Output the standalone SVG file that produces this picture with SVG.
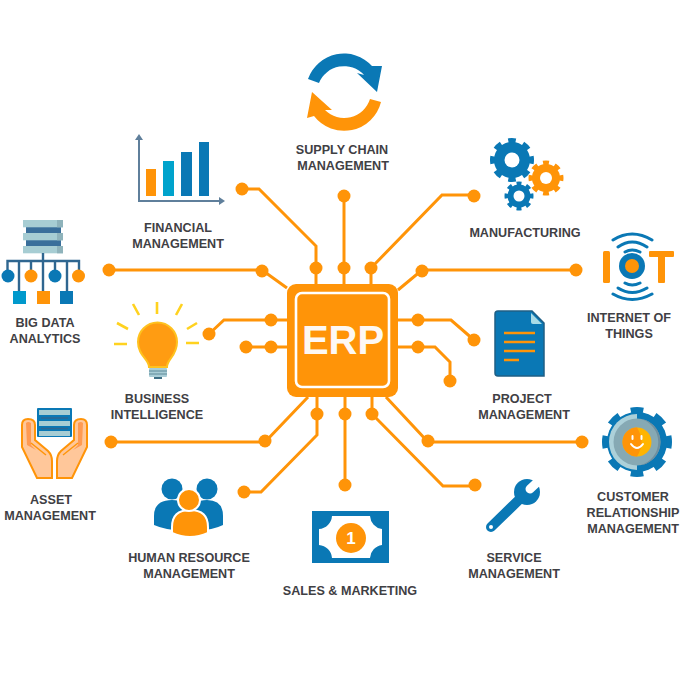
<svg xmlns="http://www.w3.org/2000/svg" width="680" height="680" viewBox="0 0 680 680">
<style>
text{font-family:"Liberation Sans",Arial,sans-serif;font-weight:700;font-size:12.6px;fill:#3f4044;text-anchor:middle}
.w{fill:none;stroke:#ff9408;stroke-width:3;stroke-linejoin:miter}
.d{fill:#ff9408}
.o{fill:#ff9408}.b{fill:#0a78b5}
.y{stroke:#ffd21f;stroke-width:2.6;fill:none}
.a{stroke:#0a78b5;stroke-width:3;fill:none;stroke-linecap:round}
.n{stroke:#2f6690;stroke-width:2.4;fill:none}
</style>
<rect width="680" height="680" fill="#fff"/>
<g id="connectors">
<path class="w" d="M242,189H259L316,246V284"/>
<path class="w" d="M344,196V284"/>
<path class="w" d="M474,195H442L371,268V284"/>
<path class="w" d="M109,270H262L287,288"/>
<path class="w" d="M576,270H422L398,290"/>
<path class="w" d="M209,334L224,320H287"/>
<path class="w" d="M246,347H287"/>
<path class="w" d="M398,320H451L474,340"/>
<path class="w" d="M398,347H435L450,362V381"/>
<path class="w" d="M111,442H265L308,397"/>
<path class="w" d="M244,492H261L317,435V397"/>
<path class="w" d="M345,397V485"/>
<path class="w" d="M372,397V414L443,486H475"/>
<path class="w" d="M386,397L428,442H582"/>
<g class="d">
<circle cx="242" cy="189" r="6.5"/><circle cx="316" cy="268" r="6.5"/>
<circle cx="344" cy="196" r="6.5"/><circle cx="344" cy="268" r="6.5"/>
<circle cx="474" cy="196" r="6.5"/><circle cx="371" cy="268" r="6.5"/>
<circle cx="109" cy="270" r="6.5"/><circle cx="262" cy="271" r="6.5"/>
<circle cx="576" cy="270" r="6.5"/><circle cx="422" cy="271" r="6.5"/>
<circle cx="209" cy="334" r="6.5"/><circle cx="271" cy="320" r="6.5"/>
<circle cx="246" cy="347" r="6.5"/><circle cx="271" cy="347" r="6.5"/>
<circle cx="418" cy="320" r="6.5"/><circle cx="474" cy="340" r="6.5"/>
<circle cx="418" cy="347" r="6.5"/><circle cx="450" cy="381" r="6.5"/>
<circle cx="111" cy="442" r="6.5"/><circle cx="265" cy="441" r="6.5"/>
<circle cx="244" cy="492" r="6.5"/><circle cx="317" cy="414" r="6.5"/>
<circle cx="345" cy="414" r="6.5"/><circle cx="345" cy="485" r="6.5"/>
<circle cx="372" cy="414" r="6.5"/><circle cx="475" cy="485" r="6.5"/>
<circle cx="428" cy="441" r="6.5"/><circle cx="582" cy="442" r="6.5"/>
</g>
</g>
<g id="erp">
<rect x="287" y="284" width="111" height="113" rx="9" class="o"/>
<rect x="296" y="293" width="93" height="94" rx="6" fill="none" stroke="#fff" stroke-width="2.6"/>
<text x="343" y="354" style="font-size:40px;fill:#fdf8f4">ERP</text>
</g>
<g id="supply-chain">
<path class="b" d="M308,79A38,38 0 0 1 372,66L382,66L377,92L357,73L364,75A27,27 0 0 0 319,83Z"/>
<path class="o" d="M381,102A38,38 0 0 1 314,116L307,118L312,92L332,110L325,110A27,27 0 0 0 370,99Z"/>
<text x="342" y="154">SUPPLY CHAIN</text><text x="343" y="170">MANAGEMENT</text>
</g>
<g id="financial">
<path d="M139,139V201H220" fill="none" stroke="#5f7f9b" stroke-width="2"/>
<path d="M139,134L143,140H135ZM225,201L219,197V205Z" fill="#5f7f9b"/>
<rect x="146" y="169" width="10" height="27" class="o"/>
<rect x="163" y="161" width="11" height="35" fill="#00a3cc"/>
<rect x="181" y="152" width="11" height="44" class="b"/>
<rect x="199" y="142" width="10" height="54" class="b"/>
<text x="178" y="232">FINANCIAL</text><text x="178" y="248">MANAGEMENT</text>
</g>
<g id="manufacturing">
<g fill="none">
<circle cx="512" cy="160" r="19" stroke="#0a78b5" stroke-width="6" pathLength="16" stroke-dasharray="1 1" stroke-dashoffset="0.5"/>
<circle cx="512" cy="160" r="18" class="b"/><circle cx="512" cy="160" r="7.5" fill="#fff"/>
<circle cx="546" cy="178" r="15" stroke="#ff9408" stroke-width="5" pathLength="16" stroke-dasharray="1 1" stroke-dashoffset="0.5"/>
<circle cx="546" cy="178" r="14" class="o"/><circle cx="546" cy="178" r="6" fill="#fff"/>
<circle cx="519" cy="196" r="12.5" stroke="#0a78b5" stroke-width="4" pathLength="16" stroke-dasharray="1 1" stroke-dashoffset="0.5"/>
<circle cx="519" cy="196" r="11.5" class="b"/><circle cx="519" cy="196" r="5.5" fill="#fff"/>
</g>
<text x="525" y="237">MANUFACTURING</text>
</g>
<g id="iot">
<rect x="603" y="251" width="7" height="32" rx="1.5" class="o"/>
<path class="o" d="M650,251H673Q674,251 674,252V256Q674,257 673,257H665V282Q665,283 664,283H659Q658,283 658,282V257H650Q649,257 649,256V252Q649,251 650,251Z"/>
<circle cx="632" cy="266" r="13" class="b"/><circle cx="632" cy="266" r="7" class="o"/>
<path class="a" d="M613,240Q632,228 652,240M618,247Q632,237 647,247M625,252Q632,248 640,252M625,283Q632,287 640,283M618,288Q632,297 647,288M613,294Q632,305 652,294"/>
<text x="629" y="322">INTERNET OF</text><text x="629" y="338">THINGS</text>
</g>
<g id="project">
<path d="M498,311H532L544,323V376H498Q495,376 495,373V314Q495,311 498,311Z" class="b" stroke="#1f5f85" stroke-width="1.5"/>
<path d="M531,313L542,324H533Q531,324 531,322Z" fill="#a9dbe6"/>
<path d="M504,333H535M504,342H535M504,351H535M504,360H519" stroke="#ff9408" stroke-width="2.6" fill="none"/>
<text x="522" y="403">PROJECT</text><text x="524" y="419">MANAGEMENT</text>
</g>
<g id="crm">
<circle cx="637" cy="442" r="29" fill="none" stroke="#0a78b5" stroke-width="12" pathLength="16" stroke-dasharray="1 1" stroke-dashoffset="0.5"/>
<circle cx="637" cy="442" r="30" class="b"/>
<path d="M637,414A28,28 0 0 0 637,470Z" fill="#acd0d9"/>
<circle cx="637" cy="442" r="23.5" fill="#86a9b4"/>
<path d="M640,418.700A23.500,23.500 0 0 1 640,465.300A24,24 0 0 0 640,418.700Z" fill="#6f8f9f"/>
<circle cx="637" cy="442" r="14.500" fill="#ffb400"/>
<path d="M637,427.500A14.500,14.500 0 0 0 637,456.500Q646,442 637,427.500Z" class="o"/>
<path d="M631,444Q637,452 643,444" fill="none" stroke="#fff" stroke-width="2" stroke-linecap="round"/>
<path d="M632.500,436V439M641.500,436V439" stroke="#fff" stroke-width="2" stroke-linecap="round"/>
<text x="633" y="501">CUSTOMER</text><text x="633" y="517">RELATIONSHIP</text><text x="633" y="533">MANAGEMENT</text>
</g>
<g id="service">
<path d="M491,527L525,494" stroke="#0a78b5" stroke-width="10" stroke-linecap="round" fill="none"/>
<circle cx="527" cy="492" r="13" class="b"/>
<path d="M544,476L530,489" stroke="#fff" stroke-width="9" stroke-linecap="round" fill="none"/>
<circle cx="491" cy="527" r="2" fill="#fff"/>
<text x="514" y="562">SERVICE</text><text x="514" y="578">MANAGEMENT</text>
</g>
<g id="sales">
<rect x="312" y="511" width="77" height="52" class="b"/>
<path d="M332,516H370A14,14 0 0 0 382,529V545A14,14 0 0 0 370,558H332A14,14 0 0 0 319,545V529A14,14 0 0 0 332,516Z" fill="#fff"/>
<circle cx="351" cy="538" r="15" class="o"/>
<text x="351" y="544" style="font-size:17px;fill:#fff">1</text>
<text x="350" y="595">SALES &amp; MARKETING</text>
</g>
<g id="hr">
<circle cx="172" cy="489" r="10.500" class="b"/><circle cx="207" cy="489" r="10.500" class="b"/>
<path class="b" d="M154,525V516Q154,500 172,500Q190,500 190,516V530Q170,532 154,525Z"/>
<path class="b" d="M223,525V516Q223,500 207,500Q189,500 189,516V530Q209,532 223,525Z"/>
<path class="o" d="M172,533V527Q172,510 190,510Q208,510 208,527V533Q190,541 172,533Z" stroke="#fff" stroke-width="2"/>
<circle cx="189" cy="500" r="11" class="o" stroke="#fff" stroke-width="2"/>
<text x="189" y="562">HUMAN RESOURCE</text><text x="189" y="578">MANAGEMENT</text>
</g>
<g id="asset">
<path d="M22,425Q22,419 28,419Q35,419 35,425V440L48,451Q52,455 52,461V478H37L22,447Z" fill="#ffc79a" stroke="#ff9408" stroke-width="2"/>
<path d="M26,423Q28,421 31,423V445L36,450L27,445Z" fill="#ff9a52"/>
<path d="M31,443L46,455" stroke="#ff9408" stroke-width="1.500" fill="none"/>
<path d="M87,425Q87,419 81,419Q74,419 74,425V440L61,451Q57,455 57,461V478H72L87,447Z" fill="#ffc79a" stroke="#ff9408" stroke-width="2"/>
<path d="M83,423Q81,421 78,423V445L73,450L82,445Z" fill="#ff9a52"/>
<path d="M78,443L63,455" stroke="#ff9408" stroke-width="1.500" fill="none"/>
<rect x="37" y="408" width="35" height="29" rx="1" class="b"/>
<rect x="39" y="410" width="31" height="5" fill="#a7cdd3"/><rect x="39" y="421" width="31" height="5" fill="#a7cdd3"/><rect x="39" y="431" width="31" height="5" fill="#a7cdd3"/>
<path d="M41,418H68M41,428.500H68" stroke="#2f6690" stroke-width="1.500"/>
<text x="51" y="504">ASSET</text><text x="50" y="520">MANAGEMENT</text>
</g>
<g id="bi">
<path class="y" d="M157,302V314M133,304L139,315M182,304L176,315M117,323L128,329M197,323L187,329M114,344H127M186,343H199"/>
<path d="M149,367C149,359 138,356 138,342A19.500,19.500 0 1 1 177,342C177,356 167,359 167,367Z" fill="#ff9c12" stroke="#ffc21f" stroke-width="2"/>
<rect x="149" y="368" width="18" height="9" rx="1" fill="#a9cdd6"/>
<path d="M149,371H167M149,374H167" stroke="#5f8a99" stroke-width="1"/>
<rect x="154" y="377" width="8" height="2" fill="#3f6f85"/>
<text x="157" y="403">BUSINESS</text><text x="157" y="419">INTELLIGENCE</text>
</g>
<g id="bigdata">
<rect x="26" y="227" width="35" height="6" fill="#3a6f9b"/><rect x="26" y="240" width="35" height="6" fill="#3a6f9b"/>
<rect x="23" y="220" width="40" height="7.300" fill="#a7cdd3"/><rect x="23" y="233" width="40" height="7.300" fill="#a7cdd3"/><rect x="23" y="246" width="40" height="7.300" fill="#a7cdd3"/>
<rect x="57" y="220" width="6" height="7.300" fill="#8fb3bb"/><rect x="57" y="233" width="6" height="7.300" fill="#8fb3bb"/><rect x="57" y="246" width="6" height="7.300" fill="#8fb3bb"/>
<path class="n" d="M43,253V291M7.500,276V261H79V276M19,261V291M31,261V276M55,261V276M67,261V291"/>
<circle cx="8" cy="276" r="6.500" class="b"/><circle cx="31" cy="276" r="6.500" class="o"/><circle cx="55" cy="276" r="6.500" class="b"/><circle cx="78.500" cy="276" r="6.500" class="o"/>
<rect x="13" y="291" width="13" height="13" fill="#0099cc"/><rect x="37" y="291" width="13" height="13" class="o"/><rect x="60" y="291" width="13" height="13" class="b"/>
<text x="45" y="327">BIG DATA</text><text x="45" y="343">ANALYTICS</text>
</g>
</svg>
